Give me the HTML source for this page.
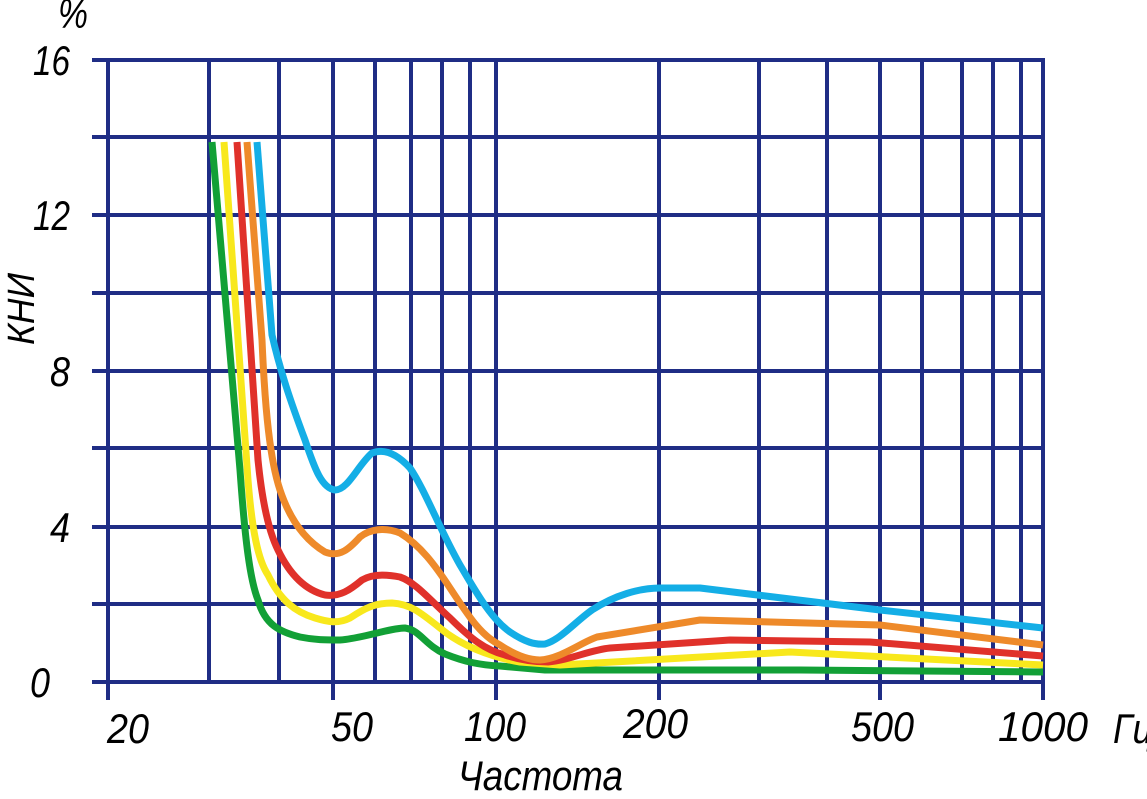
<!DOCTYPE html>
<html><head><meta charset="utf-8"><style>
body{margin:0;background:#fff}
svg text{font-family:"Liberation Sans","DejaVu Sans",sans-serif;font-style:italic;fill:#000}
</style></head><body>
<svg width="1147" height="794" viewBox="0 0 1147 794" xmlns="http://www.w3.org/2000/svg">
<g stroke="#1f2d85" stroke-width="4" fill="none">
<line x1="92" y1="60" x2="1045" y2="60"/>
<line x1="92" y1="137" x2="1045" y2="137"/>
<line x1="92" y1="215" x2="1045" y2="215"/>
<line x1="92" y1="293" x2="1045" y2="293"/>
<line x1="92" y1="371" x2="1045" y2="371"/>
<line x1="92" y1="448" x2="1045" y2="448"/>
<line x1="92" y1="527" x2="1045" y2="527"/>
<line x1="92" y1="604" x2="1045" y2="604"/>
<line x1="92" y1="682" x2="1045" y2="682"/>
<line x1="108" y1="60" x2="108" y2="700"/>
<line x1="209" y1="60" x2="209" y2="682"/>
<line x1="279" y1="60" x2="279" y2="682"/>
<line x1="333" y1="60" x2="333" y2="700"/>
<line x1="375" y1="60" x2="375" y2="682"/>
<line x1="411" y1="60" x2="411" y2="682"/>
<line x1="442" y1="60" x2="442" y2="682"/>
<line x1="470" y1="60" x2="470" y2="682"/>
<line x1="496" y1="60" x2="496" y2="700"/>
<line x1="659" y1="60" x2="659" y2="700"/>
<line x1="759" y1="60" x2="759" y2="682"/>
<line x1="827" y1="60" x2="827" y2="682"/>
<line x1="880" y1="60" x2="880" y2="700"/>
<line x1="922" y1="60" x2="922" y2="682"/>
<line x1="962" y1="60" x2="962" y2="682"/>
<line x1="993" y1="60" x2="993" y2="682"/>
<line x1="1021" y1="60" x2="1021" y2="682"/>
<line x1="1043" y1="60" x2="1043" y2="700"/>
</g>
<g fill="none" stroke-width="7" stroke-linejoin="round" stroke-linecap="butt">
<path stroke="#12a036" d="M212,142 L240,470 C245,540 250,580 258,600 C265,625 280,632 300,637 C315,640 325,640 340,640 C360,639 390,628 405,628 C420,630 425,645 445,654 C465,662 480,665 500,666 L545,670 L800,670 L1043,672"/>
<path stroke="#f8e81c" d="M224,142 L248,480 C252,530 258,560 268,575 C280,600 295,612 315,618 C328,622 338,624 350,618 C365,608 375,603 392,603 C410,604 420,612 440,628 C460,645 490,657 520,662 L560,665 L790,652 L1043,665"/>
<path stroke="#e0312a" d="M237,142 L258,460 C262,500 268,530 278,550 C290,575 305,590 325,595 C340,597 350,590 362,580 C372,574 385,574 400,577 C415,582 430,600 450,618 C470,638 485,650 505,655 C520,660 535,662 548,662 C570,660 590,650 610,648 L730,640 L870,642 L1043,656"/>
<path stroke="#ee8a2a" d="M247,142 L262,340 C265,410 270,460 280,490 C290,520 305,540 325,552 C340,558 350,548 360,537 C370,529 385,527 400,533 C420,545 435,565 450,588 C468,615 480,635 500,645 C515,655 528,660 540,660 C560,659 580,643 597,637 L700,620 L880,625 L1043,645"/>
<path stroke="#14aee6" d="M257,142 L272,335 C280,370 290,400 305,440 C315,470 322,488 335,490 C348,490 358,465 372,453 C385,448 398,455 410,468 C425,490 440,530 460,565 C475,590 490,618 510,632 C525,642 535,645 545,644 C560,640 575,622 592,610 C615,595 640,588 660,588 L700,588 L880,610 L1043,628"/>
</g>
<g font-size="42">
<text x="58" y="28" textLength="30" lengthAdjust="spacingAndGlyphs">%</text>
<text x="33" y="75" textLength="37" lengthAdjust="spacingAndGlyphs">16</text>
<text x="33" y="230" textLength="37" lengthAdjust="spacingAndGlyphs">12</text>
<text x="50" y="386" textLength="20" lengthAdjust="spacingAndGlyphs">8</text>
<text x="50" y="542" textLength="20" lengthAdjust="spacingAndGlyphs">4</text>
<text x="30" y="697" textLength="20" lengthAdjust="spacingAndGlyphs">0</text>
<text x="107" y="743" textLength="42" lengthAdjust="spacingAndGlyphs">20</text>
<text x="331" y="741" textLength="42" lengthAdjust="spacingAndGlyphs">50</text>
<text x="464" y="741" textLength="62" lengthAdjust="spacingAndGlyphs">100</text>
<text x="623" y="738" textLength="65" lengthAdjust="spacingAndGlyphs">200</text>
<text x="851" y="741" textLength="63" lengthAdjust="spacingAndGlyphs">500</text>
<text x="998" y="741" textLength="90" lengthAdjust="spacingAndGlyphs">1000</text>
<text x="1113" y="743" textLength="40" lengthAdjust="spacingAndGlyphs">Гц</text>
<text x="458" y="790" textLength="165" lengthAdjust="spacingAndGlyphs">Частота</text>
<text transform="translate(34,345) rotate(-90)" font-size="38" textLength="72" lengthAdjust="spacingAndGlyphs">КНИ</text>
</g>
</svg>
</body></html>
